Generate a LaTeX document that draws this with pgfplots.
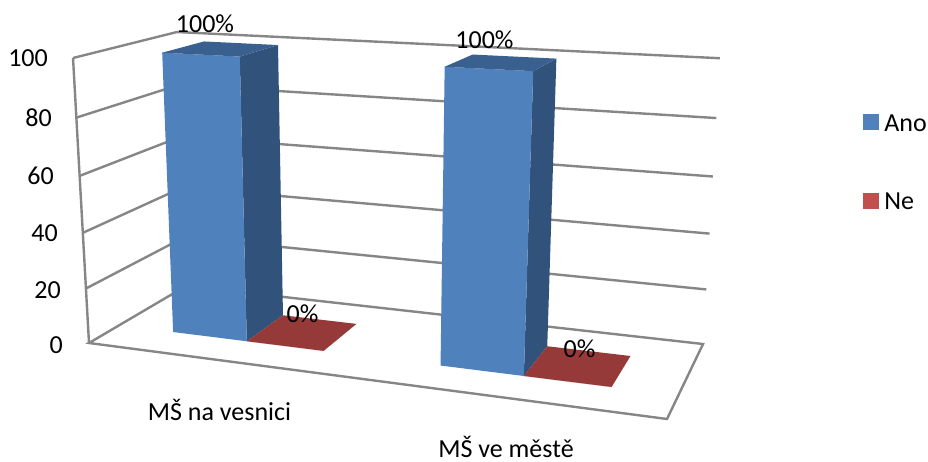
\documentclass[border=0pt]{standalone}
\usepackage{pgfplots}
\usepackage{fontspec}
\setmainfont{Carlito}
\pgfplotsset{compat=1.18}

% Colours of the two series and their shaded faces
\definecolor{anoFront}{HTML}{4F81BD}
\definecolor{anoSide}{HTML}{31527B}
\definecolor{anoTop}{HTML}{3A6090}
\definecolor{neFlat}{HTML}{953A38}
\definecolor{neKey}{HTML}{C0504D}
\definecolor{wallGrey}{HTML}{868686}

% Perspective projection of (category position u, value v, depth w) onto the page
\pgfplotsset{
  table/proj/.style={
    x expr={px(\thisrow{u},\thisrow{v},\thisrow{w})},
    y expr={py(\thisrow{u},\thisrow{v},\thisrow{w})},
    row sep=\\,
  },
}

% Bar depth along the floor
\def\wFront{0.286}
\def\wBack{0.714}

% One box: #1,#2 span along the category axis, #3 value, #4 front, #5 side, #6 top colour
\newcommand{\boxbar}[6]{%
  \addplot[fill=#5,draw=none,forget plot] table[proj]{u v w\\ #2 0 \wFront\\ #2 #3 \wFront\\ #2 #3 \wBack\\ #2 0 \wBack\\};
  \addplot[fill=#4,draw=none,forget plot] table[proj]{u v w\\ #1 0 \wFront\\ #2 0 \wFront\\ #2 #3 \wFront\\ #1 #3 \wFront\\};
  \addplot[fill=#6,draw=none,forget plot] table[proj]{u v w\\ #1 #3 \wFront\\ #2 #3 \wFront\\ #2 #3 \wBack\\ #1 #3 \wBack\\};
}

\begin{document}
\begin{tikzpicture}
\begin{axis}[
  name=main,
  scale only axis,
  width=928pt,height=462pt,
  xmin=0,xmax=928,ymin=0,ymax=462,
  y dir=reverse,
  hide axis,
  clip=false,
  declare function={
    wt(\u,\v,\w)=1-0.1411*\u+0.1278*\w-0.055*\v/100;
    px(\u,\v,\w)=(89+483.9*\u+120.77*\w-20.0*\v/100-3*\u*\w*\v/100)/wt(\u,\v,\w);
    py(\u,\v,\w)=(343+16.88*\u-20.44*\w-288.19*\v/100+3*\u*\w*\v/100)/wt(\u,\v,\w);
  },
  legend style={
    at={(axis cs:863,114)},anchor=north west,draw=none,fill=none,
    inner sep=0pt,outer sep=0pt,row sep=60pt,
    font=\fontsize{26}{26}\selectfont,
    nodes={inner sep=0pt,anchor=base west},
  },
  legend cell align=left,
]
% Floor outline
\addplot[wallGrey,line width=2.4pt,forget plot] table[proj]{u v w\\ 0 0 1\\ 0 0 0\\ 1 0 0\\ 1 0 1\\ 0 0 1\\};
% Left edge of the side wall
\addplot[wallGrey,line width=2.4pt,forget plot] table[proj]{u v w\\ 0 0 0\\ 0 100 0\\};
% Gridlines across side and back wall
\pgfplotsinvokeforeach{20,40,60,80,100}{
  \addplot[wallGrey,line width=2.4pt,forget plot] table[proj]{u v w\\ 0 #1 0\\ 0 #1 1\\ 1 #1 1\\};
}
% Bars of each category
\boxbar{0.11}{0.255}{100}{anoFront}{anoSide}{anoTop}
\boxbar{0.255}{0.40}{0}{neFlat}{neFlat}{neFlat}
\boxbar{0.61}{0.752}{100}{anoFront}{anoSide}{anoTop}
\boxbar{0.752}{0.895}{0}{neFlat}{neFlat}{neFlat}

% Legend keys
\addlegendimage{legend image code/.code={\fill[anoFront] (0pt,2pt) rectangle (15pt,17pt);}}
\addlegendentry{\hspace{6pt}Ano}
\addlegendimage{legend image code/.code={\fill[neKey] (0pt,2pt) rectangle (15pt,17pt);}}
\addlegendentry{\hspace{6pt}Ne}

% Axis numbers, category names and value labels
\begin{scope}[every node/.style={font=\fontsize{26}{26}\selectfont,inner sep=0pt,text=black}]
\node[anchor=base east] at (axis cs:48,67) {100};
\node[anchor=base east] at (axis cs:52,127) {80};
\node[anchor=base east] at (axis cs:54,185) {60};
\node[anchor=base east] at (axis cs:58,242) {40};
\node[anchor=base east] at (axis cs:61,298) {20};
\node[anchor=base east] at (axis cs:63,353) {0};
\node[anchor=base] at (axis cs:219.5,420) {MŠ na vesnici};
\node[anchor=base] at (axis cs:506,457) {MŠ ve městě};
\node[anchor=base] at (axis cs:205,33) {100\%};
\node[anchor=base] at (axis cs:484.5,49) {100\%};
\node[anchor=base] at (axis cs:302.5,322) {0\%};
\node[anchor=base] at (axis cs:579.5,357) {0\%};
\end{scope}
\end{axis}
\pgfresetboundingbox
\useasboundingbox (main.south west) rectangle (main.north east);
\end{tikzpicture}
\end{document}
